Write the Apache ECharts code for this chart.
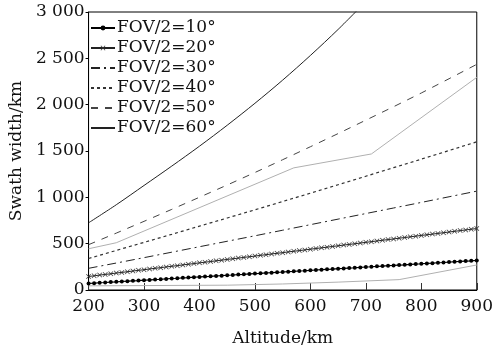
<!DOCTYPE html>
<html>
<head>
<meta charset="utf-8">
<script src="https://cdn.jsdelivr.net/npm/echarts@6/dist/echarts.min.js"></script>
<style>html,body{margin:0;padding:0;background:#fff}#c{width:496px;height:352px}</style>
</head>
<body>
<div id="c"></div>
<script>
// Altitude grids (km)
var altFine = [200,210,220,230,240,250,260,270,280,290,300,310,320,330,340,350,360,370,380,390,400,410,420,430,440,450,460,470,480,490,500,510,520,530,540,550,560,570,580,590,600,610,620,630,640,650,660,670,680,690,700,710,720,730,740,750,760,770,780,790,800,810,820,830,840,850,860,870,880,890,900];
var altCoarse = [200,250,300,350,400,450,500,550,600,650,700,750,800,850,900];
var alt60 = [200,250,300,350,400,450,500,550,600,650,700];

// Swath width (km)
var fov10 = [71,74,78,81,85,88,92,95,99,102,106,109,113,116,120,124,127,131,134,138,141,145,148,152,155,159,162,166,169,173,177,180,184,187,191,194,198,201,205,208,212,216,219,223,226,230,233,237,240,244,248,251,255,258,262,265,269,272,276,280,283,287,290,294,297,301,305,308,312,315,319];
var fov20 = [146,153,161,168,175,183,190,197,205,212,219,227,234,241,249,256,263,271,278,285,293,300,307,315,322,330,337,344,352,359,366,374,381,389,396,403,411,418,425,433,440,448,455,462,470,477,485,492,499,507,514,522,529,537,544,551,559,566,574,581,589,596,603,611,618,626,633,641,648,656,663];
var fov30 = [234,291,349,408,467,526,585,645,705,765,825,885,945,1006,1067];
var fov40 = [340,427,514,601,689,777,865,955,1045,1136,1228,1320,1412,1505,1599];
var fov50 = [489,614,741,870,1001,1133,1268,1406,1546,1688,1833,1978,2126,2280,2435];
var fov60 = [725,920,1128,1337,1552,1778,2015,2265,2531,2812,3113];

// Extra thin grey traces
var grayAx = [200,250,570,710,900];
var grayAy = [445,510,1318,1468,2295];
var grayBx = [200,450,550,650,760,900];
var grayBy = [45,52,65,85,112,270];

var names = ['FOV/2=10°','FOV/2=20°','FOV/2=30°','FOV/2=40°','FOV/2=50°','FOV/2=60°'];
var yTicks = [0,500,1000,1500,2000,2500,3000];
var xTicks = [200,300,400,500,600,700,800,900];

function pairs(xs, ys){ return xs.map(function(x,i){ return [x, ys[i]]; }); }

var FONT = 'DejaVu Serif';
var xShape = 'path://M0,1L1,0L5,4L9,0L10,1L6,5L10,9L9,10L5,6L1,10L0,9L4,5Z';
var CLEAR = 'rgba(0,0,0,0)';

function plain(name, pts, color, width, dash, extra){
  var s = {name:name, type:'line', data: pts, symbol:'circle', showSymbol:false, symbolSize:1,
    itemStyle:{color:CLEAR}, lineStyle:{color:color, width:width, type:dash},
    emphasis:{disabled:true}};
  if (extra) for (var k in extra) s[k] = extra[k];
  return s;
}

var chart = echarts.init(document.getElementById('c'), null, {renderer:'canvas'});
chart.setOption({
  animation: false,
  backgroundColor: '#fff',
  grid: {left:79, right:14, top:12, bottom:60, show:true, borderColor:'#000', borderWidth:1, backgroundColor:'transparent'},
  legend: {
    orient: 'vertical', left: 85, top: 13, itemWidth: 24, itemHeight: 6, itemGap: 0,
    data: names,
    textStyle: {fontFamily: FONT, fontSize: 17, color: '#111', lineHeight: 20, padding:[0,0,0,-3]}
  },
  xAxis: {
    type: 'value', min: xTicks[0], max: xTicks[xTicks.length-1], interval: 100,
    name: 'Altitude/km', nameLocation: 'middle', nameGap: 40,
    nameTextStyle: {fontFamily: FONT, fontSize: 17, color: '#111'},
    axisLine: {show:true, lineStyle:{color:'#000', width:1}},
    axisTick: {show:true, inside:true, length:7, lineStyle:{color:'#333'}},
    axisLabel: {fontFamily: FONT, fontSize: 17, color: '#111', margin: 8},
    splitLine: {show:false}
  },
  yAxis: {
    type: 'value', min: yTicks[0], max: yTicks[yTicks.length-1], interval: 500,
    name: 'Swath width/km', nameLocation: 'middle', nameGap: 56, nameRotate: 90,
    nameTextStyle: {fontFamily: FONT, fontSize: 17, color: '#111'},
    axisLine: {show:true, lineStyle:{color:'#000', width:1}},
    axisTick: {show:true, inside:false, length:3, lineStyle:{color:'#000'}},
    axisLabel: {fontFamily: FONT, fontSize: 17, color: '#111', margin: 4,
      formatter: function(v){ return String(v).replace(/\B(?=(\d{3})+$)/g,' '); }},
    splitLine: {show:false}
  },
  series: [
    plain('grayA', pairs(grayAx, grayAy), '#b0b0b0', 1, 'solid', {z:1}),
    plain('grayB', pairs(grayBx, grayBy), '#b0b0b0', 1, 'solid', {z:1}),
    {name:names[0], type:'line', data: pairs(altFine, fov10), symbol:'circle', symbolSize:4,
      itemStyle:{color:'#000'}, lineStyle:{color:'#000', width:1.2}, z:3},
    {name:names[1], type:'line', data: pairs(altFine, fov20), symbol:xShape, symbolSize:5,
      itemStyle:{color:'#333'}, lineStyle:{color:'#222', width:1}, z:3},
    plain(names[2], pairs(altCoarse, fov30), '#222', 1, [9,4,2,4]),
    plain(names[3], pairs(altCoarse, fov40), '#333', 1.2, [3,3]),
    plain(names[4], pairs(altCoarse, fov50), '#444', 1, [7,7]),
    plain(names[5], pairs(alt60, fov60), '#222', 1, 'solid', {smooth:0.3})
  ]
});
</script>
</body>
</html>
